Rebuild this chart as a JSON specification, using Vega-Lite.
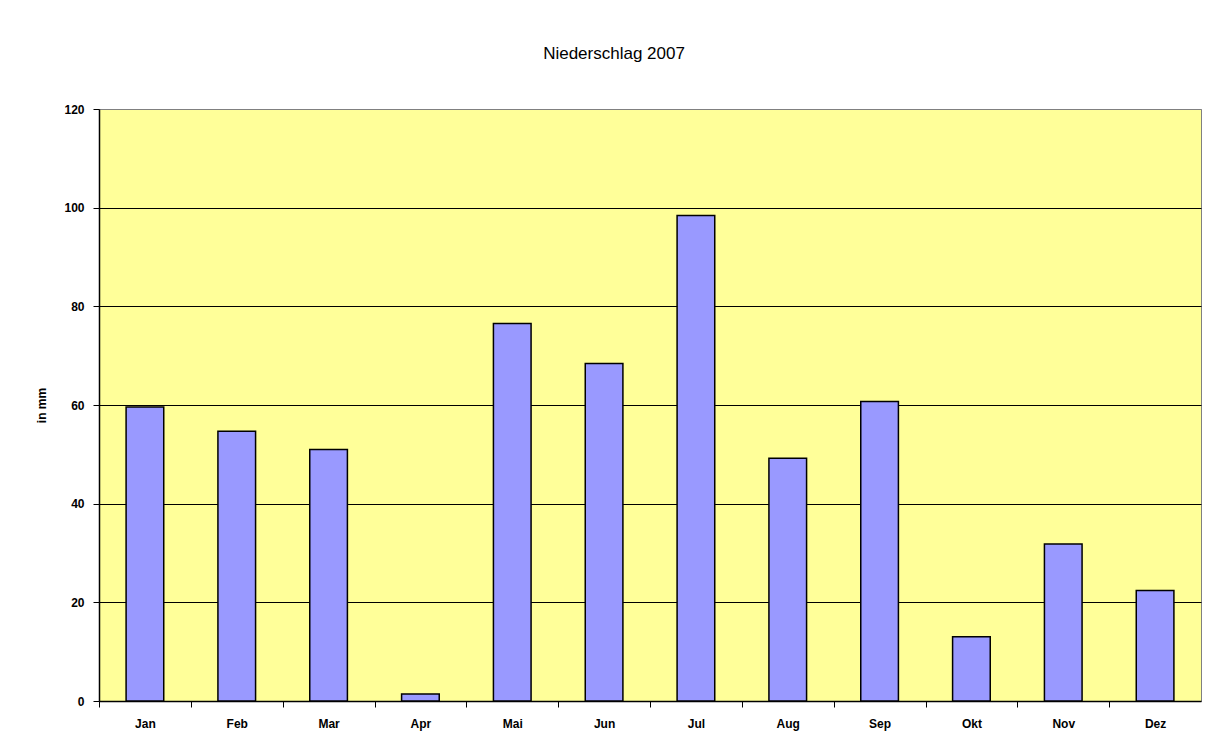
{
  "$schema": "https://vega.github.io/schema/vega-lite/v6.json",
  "width": 1102,
  "height": 592,
  "autosize": {"type": "none"},
  "padding": {"left": 99, "top": 109, "right": 15, "bottom": 55},
  "background": "white",
  "title": {
    "text": "Niederschlag 2007",
    "font": "Liberation Sans",
    "fontSize": 17,
    "fontWeight": "normal",
    "color": "black",
    "anchor": "middle",
    "frame": "group",
    "dx": -36,
    "offset": 40
  },
  "config": {
    "view": {"fill": "#FFFF99", "stroke": "#808080", "strokeWidth": 1},
    "axis": {
      "labelFont": "Liberation Sans",
      "labelFontWeight": "bold",
      "labelFontSize": 12,
      "labelColor": "black",
      "titleFont": "Liberation Sans",
      "titleFontWeight": "bold",
      "titleFontSize": 12,
      "titleColor": "black",
      "domainColor": "black",
      "tickColor": "black",
      "tickSize": 6
    }
  },
  "data": {
    "values": [
      {"Monat": "Jan", "mm": 59.6},
      {"Monat": "Feb", "mm": 54.7},
      {"Monat": "Mar", "mm": 51.0},
      {"Monat": "Apr", "mm": 1.4},
      {"Monat": "Mai", "mm": 76.5},
      {"Monat": "Jun", "mm": 68.4},
      {"Monat": "Jul", "mm": 98.4},
      {"Monat": "Aug", "mm": 49.2},
      {"Monat": "Sep", "mm": 60.7},
      {"Monat": "Okt", "mm": 13.0},
      {"Monat": "Nov", "mm": 31.8},
      {"Monat": "Dez", "mm": 22.4}
    ]
  },
  "mark": {"type": "bar", "fill": "#9999FF", "stroke": "black", "strokeWidth": 1.5},
  "encoding": {
    "x": {
      "field": "Monat",
      "type": "nominal",
      "sort": null,
      "scale": {"paddingInner": 0.59, "paddingOuter": 0.295},
      "axis": {
        "title": null,
        "labelAngle": 0,
        "labelPadding": 11,
        "tickOffset": -45.9,
        "labelOffset": 45.9,
        "domainWidth": 1.5
      }
    },
    "y": {
      "field": "mm",
      "type": "quantitative",
      "scale": {"domain": [0, 120], "nice": false},
      "axis": {
        "title": "in mm",
        "values": [0, 20, 40, 60, 80, 100, 120],
        "grid": true,
        "gridColor": {"condition": {"test": "datum.value === 120 || datum.value === 0", "value": "#808080"}, "value": "black"},
        "gridOpacity": 1,
        "gridWidth": 1.2,
        "labelPadding": 9,
        "titlePadding": 15,
        "domainWidth": 1.5
      }
    }
  }
}
